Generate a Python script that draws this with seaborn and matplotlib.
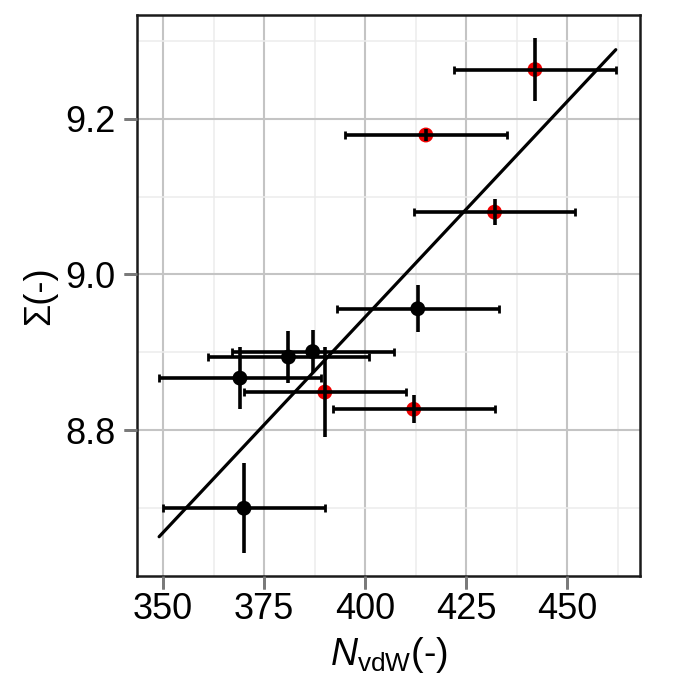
import numpy as np
import matplotlib
matplotlib.use("Agg")
import matplotlib.pyplot as plt
import matplotlib.transforms as mtransforms
import seaborn as sns
from matplotlib.ticker import FixedLocator, FormatStrFormatter

# values
n_vdw = [442, 415, 432, 413, 381, 387, 369, 390, 412, 370]
n_vdw_err = [20, 20, 20, 20, 20, 20, 20, 20, 20, 20]
sigma = [9.263, 9.179, 9.080, 8.956, 8.894, 8.901, 8.867, 8.849, 8.827, 8.700]
sigma_err = [0.040, 0.008, 0.017, 0.030, 0.033, 0.028, 0.040, 0.058, 0.018, 0.058]
group = ['red', 'red', 'red', 'black', 'black', 'black', 'black', 'red', 'red', 'black']

x_ticks = [350, 375, 400, 425, 450]
y_ticks = [8.8, 9.0, 9.2]

sns.set_theme(style="whitegrid")
plt.rcParams['font.family'] = ['Liberation Sans', 'DejaVu Sans']
plt.rcParams['mathtext.fontset'] = 'custom'
plt.rcParams['mathtext.rm'] = 'Liberation Sans'
plt.rcParams['mathtext.it'] = 'Liberation Sans:italic'

fig = plt.figure(figsize=(6.92, 6.91), dpi=100)
ax = fig.add_axes([0.1984, 0.1664, 0.7265, 0.8119])

x = np.array(n_vdw)
y = np.array(sigma)

# points first, error bars drawn over them
sns.scatterplot(x=x, y=y, hue=group, palette={'red': '#ee0000', 'black': 'black'},
                s=115, edgecolor='none', legend=False, ax=ax, zorder=3)

ax.errorbar(x, y, xerr=n_vdw_err, fmt='none', ecolor='black', elinewidth=2.6,
            capsize=2.8, capthick=2.0, zorder=4)
ax.errorbar(x, y, yerr=sigma_err, fmt='none', ecolor='black', elinewidth=2.6,
            capsize=0, zorder=4)

# linear fit over the span of the horizontal error bars
coef = np.polyfit(x, y, 1)
x_fit = np.array([(x - np.array(n_vdw_err)).min(), (x + np.array(n_vdw_err)).max()])
sns.lineplot(x=x_fit, y=np.polyval(coef, x_fit), color='black', linewidth=2.3, ax=ax, zorder=3.5)

ax.set_xlim(343.6, 468.0)
ax.set_ylim(8.613, 9.333)
ax.xaxis.set_major_locator(FixedLocator(x_ticks))
ax.yaxis.set_major_locator(FixedLocator(y_ticks))
ax.xaxis.set_minor_locator(FixedLocator([337.5, 362.5, 387.5, 412.5, 437.5, 462.5]))
ax.yaxis.set_minor_locator(FixedLocator([8.7, 8.9, 9.1, 9.3]))
ax.yaxis.set_major_formatter(FormatStrFormatter('%.1f'))

ax.grid(True, which='major', color='#c4c4c4', linewidth=1.5)
ax.grid(True, which='minor', color='#ececec', linewidth=1.1)
ax.set_facecolor('white')

for sp in ax.spines.values():
    sp.set_color('#1a1a1a')
    sp.set_linewidth(1.8)

ax.set_xlabel(r'$N_{\mathrm{vdW}}$(-)', fontsize=27, color='black', labelpad=6)
ax.set_ylabel('Σ(-)', fontsize=26, color='black', labelpad=6)

ax.tick_params(axis='both', which='minor', length=0, bottom=False, left=False)
ax.tick_params(axis='x', which='major', length=9.5, width=2.0, color='#7a7a7a',
               labelsize=26, labelcolor='black', bottom=True, direction='out', pad=2)
ax.tick_params(axis='y', which='major', length=9.5, width=2.0, color='#7a7a7a',
               labelsize=26, labelcolor='black', left=True, direction='out', pad=6)

# the tick marks did not show up, so draw them outside the frame at the tick positions
tick_len_x = 13 / (0.8119 * 691)
tick_len_y = 13 / (0.7265 * 692)
bx = mtransforms.blended_transform_factory(ax.transData, ax.transAxes)
by = mtransforms.blended_transform_factory(ax.transAxes, ax.transData)
for tx in x_ticks:
    ax.plot([tx, tx], [0, -tick_len_x], transform=bx, color='#7a7a7a', lw=2.0,
            solid_capstyle='butt', clip_on=False, zorder=10)
for ty in y_ticks:
    ax.plot([0, -tick_len_y], [ty, ty], transform=by, color='#7a7a7a', lw=2.0,
            solid_capstyle='butt', clip_on=False, zorder=10)

plt.savefig('out.png', dpi=100)
